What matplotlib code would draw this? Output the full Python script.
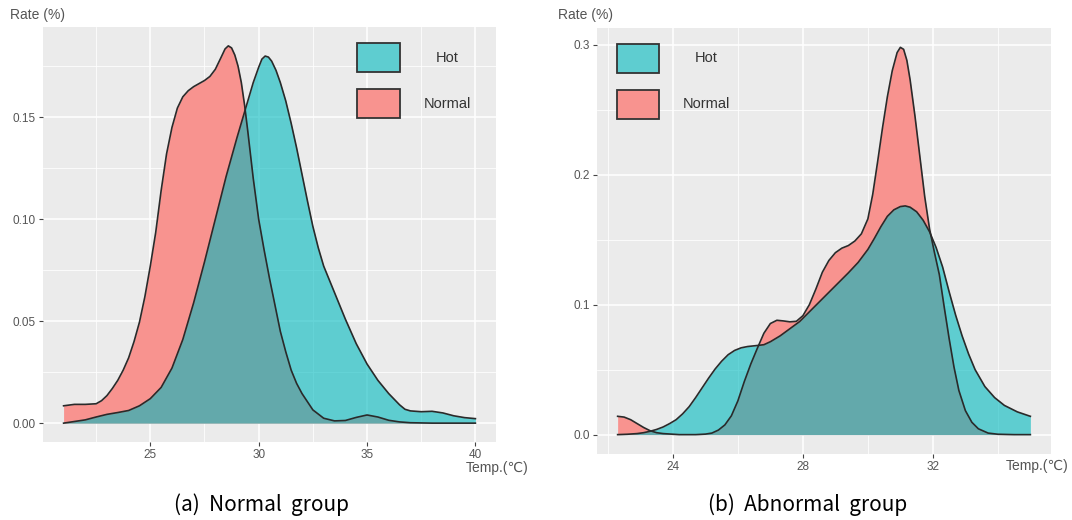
import matplotlib
matplotlib.use('Agg')
import matplotlib.pyplot as plt
from matplotlib.patches import Rectangle
from matplotlib.ticker import FixedLocator, FormatStrFormatter

# ---- data (density curves) ----
# (a) Normal group
a_normal_x = [21.0, 21.5, 22.0, 22.5, 22.75, 23.0, 23.25, 23.5, 23.75, 24.0, 24.25, 24.5,
              24.75, 25.0, 25.25, 25.5, 25.75, 26.0, 26.25, 26.5, 26.75, 27.0, 27.25, 27.5,
              27.75, 28.0, 28.25, 28.45, 28.6, 28.75, 28.9, 29.05, 29.2, 29.35, 29.5, 29.75,
              30.0, 30.25, 30.5, 30.75, 31.0, 31.25, 31.5, 31.75, 32.0, 32.5, 33.0, 33.5,
              34.0, 34.5, 35.0, 35.5, 36.0, 36.5, 37.0, 38.0, 39.0, 40.0]
a_normal_y = [0.0085, 0.0092, 0.0092, 0.0095, 0.0110, 0.0135, 0.0170, 0.0210, 0.0260, 0.0320,
              0.0400, 0.0495, 0.0620, 0.0770, 0.0935, 0.1140, 0.1320, 0.1450, 0.1545, 0.1600,
              0.1630, 0.1650, 0.1665, 0.1680, 0.1700, 0.1735, 0.1790, 0.1835, 0.1850, 0.1840,
              0.1805, 0.1750, 0.1670, 0.1560, 0.1430, 0.1200, 0.1000, 0.0850, 0.0710, 0.0580,
              0.0450, 0.0350, 0.0260, 0.0195, 0.0145, 0.0065, 0.0024, 0.0011, 0.0013, 0.0028,
              0.0040, 0.0030, 0.0014, 0.0006, 0.0002, 0.0, 0.0, 0.0]
a_hot_x = [21.0, 21.5, 22.0, 22.5, 23.0, 23.5, 24.0, 24.5, 25.0, 25.5, 26.0, 26.5, 27.0,
           27.5, 28.0, 28.5, 29.0, 29.25, 29.5, 29.75, 30.0, 30.15, 30.3, 30.45, 30.6, 30.8,
           31.0, 31.25, 31.5, 31.75, 32.0, 32.25, 32.5, 32.75, 33.0, 33.5, 34.0, 34.5, 35.0,
           35.5, 36.0, 36.5, 36.75, 37.0, 37.5, 38.0, 38.5, 39.0, 39.5, 40.0]
a_hot_y = [0.0, 0.0008, 0.0016, 0.0030, 0.0043, 0.0052, 0.0062, 0.0085, 0.0120, 0.0175,
           0.0270, 0.0410, 0.0590, 0.0790, 0.1000, 0.1210, 0.1400, 0.1490, 0.1580, 0.1670,
           0.1745, 0.1785, 0.1800, 0.1795, 0.1775, 0.1730, 0.1670, 0.1580, 0.1470, 0.1350,
           0.1220, 0.1090, 0.0965, 0.0860, 0.0770, 0.0640, 0.0510, 0.0390, 0.0290, 0.0210,
           0.0145, 0.0090, 0.0068, 0.0060, 0.0056, 0.0058, 0.0050, 0.0036, 0.0027, 0.0022]

# (b) Abnormal group
b_normal_x = [22.3, 22.5, 22.7, 22.9, 23.1, 23.3, 23.5, 23.7, 24.2, 24.7, 25.0, 25.2, 25.4,
              25.6, 25.8, 26.0, 26.2, 26.4, 26.6, 26.8, 27.0, 27.2, 27.4, 27.6, 27.8, 28.0,
              28.2, 28.4, 28.6, 28.8, 29.0, 29.2, 29.4, 29.6, 29.8, 30.0, 30.15, 30.3, 30.45,
              30.6, 30.75, 30.9, 31.0, 31.1, 31.2, 31.3, 31.45, 31.6, 31.75, 31.9, 32.05,
              32.2, 32.35, 32.5, 32.65, 32.8, 33.0, 33.2, 33.4, 33.7, 34.0, 34.5, 35.0]
b_normal_y = [0.0141, 0.0135, 0.0115, 0.0085, 0.0055, 0.0030, 0.0015, 0.0008, 0.0, 0.0,
              0.0004, 0.0012, 0.0035, 0.0075, 0.0145, 0.0260, 0.0410, 0.0545, 0.0665, 0.0780,
              0.0855, 0.0880, 0.0875, 0.0868, 0.0872, 0.0915, 0.1000, 0.1120, 0.1250, 0.1340,
              0.1400, 0.1435, 0.1455, 0.1490, 0.1545, 0.1660, 0.1850, 0.2100, 0.2360, 0.2600,
              0.2800, 0.2940, 0.2980, 0.2965, 0.2880, 0.2730, 0.2450, 0.2140, 0.1830, 0.1580,
              0.1400, 0.1230, 0.0980, 0.0740, 0.0520, 0.0340, 0.0185, 0.0095, 0.0045, 0.0012,
              0.0003, 0.0, 0.0]
b_hot_x = [22.3, 22.6, 22.9, 23.1, 23.3, 23.5, 23.7, 23.9, 24.1, 24.3, 24.5, 24.7, 24.9,
           25.1, 25.3, 25.5, 25.7, 25.9, 26.1, 26.3, 26.6, 26.8, 27.0, 27.3, 27.6, 27.9,
           28.2, 28.5, 28.8, 29.1, 29.4, 29.7, 30.0, 30.2, 30.4, 30.6, 30.8, 31.0, 31.15,
           31.3, 31.5, 31.7, 31.9, 32.1, 32.3, 32.5, 32.7, 32.9, 33.1, 33.3, 33.6, 33.9,
           34.2, 34.6, 35.0]
b_hot_y = [0.0, 0.0003, 0.0008, 0.0015, 0.0026, 0.0040, 0.0059, 0.0085, 0.0115, 0.0160,
           0.0215, 0.0285, 0.0360, 0.0435, 0.0505, 0.0565, 0.0615, 0.0648, 0.0668, 0.0678,
           0.0686, 0.0692, 0.0715, 0.0760, 0.0815, 0.0870, 0.0945, 0.1020, 0.1095, 0.1170,
           0.1245, 0.1325, 0.1425, 0.1510, 0.1600, 0.1680, 0.1730, 0.1755, 0.1760, 0.1750,
           0.1715, 0.1650, 0.1560, 0.1440, 0.1290, 0.1100, 0.0920, 0.0760, 0.0620, 0.0500,
           0.0370, 0.0285, 0.0225, 0.0175, 0.0141]

labels = ['Hot', 'Normal']

PINK = '#F8938F'
TEAL = '#00B9BE'
EDGE = '#2a2a2a'
BG = '#EBEBEB'
W, H = 1072, 520

plt.rcParams['font.family'] = ['Liberation Sans', 'DejaVu Sans']

fig = plt.figure(figsize=(W / 100, H / 100), dpi=100)


def box(l, t, r, b):
    # pixel box -> figure fraction [left, bottom, width, height]
    return [l / W, 1 - b / H, (r - l) / W, (b - t) / H]


def fx(x):
    return x / W


def fy(y):
    return 1 - y / H


def panel(rect, nx, ny, hx, hy, xticks, xminor, yticks, yminor, yfmt):
    ax = fig.add_axes(box(*rect))
    ax.set_facecolor(BG)
    ax.fill_between(nx, ny, color=PINK, lw=0)
    ax.plot(nx, ny, color=EDGE, lw=1.2, solid_joinstyle='round')
    ax.fill_between(hx, hy, color=TEAL, alpha=0.6, lw=0)
    ax.plot(hx, hy, color=EDGE, lw=1.2, solid_joinstyle='round')
    # ggplot style 5% expansion
    xlo = min(min(nx), min(hx))
    xhi = max(max(nx), max(hx))
    ytop = max(max(ny), max(hy))
    ax.set_xlim(xlo - 0.05 * (xhi - xlo), xhi + 0.05 * (xhi - xlo))
    ax.set_ylim(-0.05 * ytop, 1.05 * ytop)
    ax.xaxis.set_major_locator(FixedLocator(xticks))
    ax.xaxis.set_minor_locator(FixedLocator(xminor))
    ax.yaxis.set_major_locator(FixedLocator(yticks))
    ax.yaxis.set_minor_locator(FixedLocator(yminor))
    ax.yaxis.set_major_formatter(FormatStrFormatter(yfmt))
    ax.set_axisbelow(True)
    ax.grid(which='major', color='white', lw=1.1)
    ax.grid(which='minor', color='white', lw=0.55)
    for s in ax.spines.values():
        s.set_visible(False)
    ax.tick_params(which='major', length=3, width=0.8, color='#444444',
                   labelsize=8.5, labelcolor='#555555', pad=2)
    ax.tick_params(which='minor', length=0)
    return ax


ax1 = panel((43, 27, 496, 442), a_normal_x, a_normal_y, a_hot_x, a_hot_y,
            [25, 30, 35, 40], [22.5, 27.5, 32.5, 37.5],
            [0, 0.05, 0.10, 0.15], [0.025, 0.075, 0.125, 0.175], '%.2f')
ax2 = panel((597, 28, 1051, 454), b_normal_x, b_normal_y, b_hot_x, b_hot_y,
            [24, 28, 32], [22, 26, 30, 34],
            [0, 0.1, 0.2, 0.3], [0.05, 0.15, 0.25], '%.1f')

# axis titles placed like the original figure
tc = '#555555'
fig.text(fx(10), fy(15), 'Rate (%)', fontsize=10, color=tc, va='center', ha='left')
fig.text(fx(558), fy(15), 'Rate (%)', fontsize=10, color=tc, va='center', ha='left')
fig.text(fx(528), fy(468), 'Temp.(℃)', fontsize=10, color=tc, va='center', ha='right')
fig.text(fx(1068), fy(466), 'Temp.(℃)', fontsize=10, color=tc, va='center', ha='right')

# legends (boxes inside the panels)
for (kx0, kx1, ky0, tx) in [(357, 400, 43, 447), (617, 659, 44, 706)]:
    for i, lab in enumerate(labels):
        y0 = ky0 + i * 46
        r = ((fx(kx0), fy(y0 + 29)), (kx1 - kx0) / W, 29 / H)
        if lab == 'Hot':
            fig.add_artist(Rectangle(*r, transform=fig.transFigure, facecolor=BG,
                                     edgecolor='none'))
            fig.add_artist(Rectangle(*r, transform=fig.transFigure, facecolor=TEAL,
                                     alpha=0.6, edgecolor='none'))
        else:
            fig.add_artist(Rectangle(*r, transform=fig.transFigure, facecolor=PINK,
                                     edgecolor='none'))
        fig.add_artist(Rectangle(*r, transform=fig.transFigure, facecolor='none',
                                 edgecolor='#333333', lw=1.3))
        fig.text(fx(tx), fy(y0 + 14.5), lab, fontsize=10.5, color='#333333',
                 ha='center', va='center')

# captions
cap = ['Noto Sans CJK KR', 'DejaVu Sans']
fig.text(fx(261), fy(505), '(a)  Normal  group', fontsize=15, family=cap,
         ha='center', va='center', color='black')
fig.text(fx(808), fy(505), '(b)  Abnormal  group', fontsize=15, family=cap,
         ha='center', va='center', color='black')

fig.savefig('out.png', dpi=100, facecolor='white')
